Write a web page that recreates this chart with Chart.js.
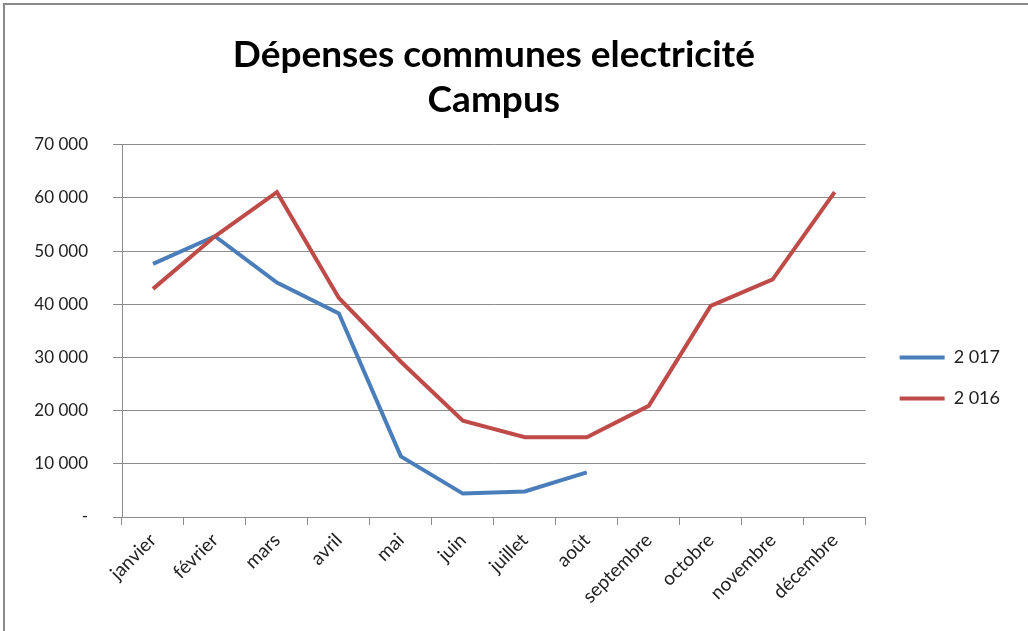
<!DOCTYPE html>
<html>
<head>
<meta charset="utf-8">
<script src="https://cdn.jsdelivr.net/npm/chart.js@4/dist/chart.umd.min.js"></script>
<style>
  html, body { margin: 0; padding: 0; background: #fff; }
  #wrap { position: relative; width: 1028px; height: 631px; overflow: hidden; }
  #frame { position: absolute; left: 3px; top: 3px; width: 1040px; height: 640px;
           border-top: 2px solid #8a8a8a; border-left: 2px solid #8a8a8a; pointer-events: none; }
</style>
</head>
<body>
<div id="wrap">
  <canvas id="chart" width="1028" height="631"></canvas>
  <div id="frame"></div>
</div>
<script>
const months = ["janvier", "février", "mars", "avril", "mai", "juin", "juillet", "août",
  "septembre", "octobre", "novembre", "décembre"];
const values2017 = [47600, 52800, 44100, 38300, 11400, 4400, 4800, 8400];
const values2016 = [42900, 52800, 61100, 41200, 29200, 18100, 15000, 15000, 20900, 39700, 44700, 61100];
const yTickLabels = ["-", "10 000", "20 000", "30 000", "40 000", "50 000", "60 000", "70 000"];

const blue = "#4A7EBB";
const red = "#BE4B48";
const gridColor = "#8c8c8c";
const font = "Lato, 'Liberation Sans', sans-serif";

const chart = new Chart(document.getElementById("chart"), {
  type: "line",
  data: {
    labels: months,
    datasets: [
      {
        label: "2 017",
        data: values2017,
        borderColor: blue,
        backgroundColor: blue,
        borderWidth: 4,
        pointRadius: 0,
        tension: 0,
        order: 1,
      },
      {
        label: "2 016",
        data: values2016,
        borderColor: red,
        backgroundColor: red,
        borderWidth: 4,
        pointRadius: 0,
        tension: 0,
        order: 0,
      },
    ],
  },
  options: {
    responsive: false,
    animation: false,
    layout: { padding: { left: 0, right: 18, top: 0, bottom: 0 } },
    plugins: {
      tooltip: { enabled: false },
      title: {
        display: true,
        fullSize: false,
        text: ["Dépenses communes electricité", "Campus"],
        color: "#000",
        font: { family: font, size: 37, weight: "bold", lineHeight: 1.2 },
        padding: { top: 33, bottom: 23 },
      },
      legend: {
        position: "right",
        title: { display: true, text: " ", padding: { top: 113, bottom: 0 }, font: { size: 10 } },
        labels: {
          usePointStyle: true,
          pointStyle: "line",
          pointStyleWidth: 45,
          color: "#222",
          font: { family: font, size: 18 },
          padding: 23,
          sort: (a, b) => a.datasetIndex - b.datasetIndex,
        },
      },
    },
    scales: {
      x: {
        offset: true,
        grid: { offset: true, drawOnChartArea: false, drawTicks: true, tickLength: 8, color: gridColor },
        border: { color: gridColor, width: 1 },
        ticks: {
          minRotation: 45,
          maxRotation: 45,
          autoSkip: false,
          color: "#222",
          font: { family: font, size: 19 },
          padding: 4,
        },
        afterFit: (scale) => { scale.height = 114; },
      },
      y: {
        min: 0,
        max: 70000,
        grid: { color: gridColor, tickLength: 9 },
        border: { color: gridColor, width: 1 },
        ticks: {
          stepSize: 10000,
          color: "#222",
          font: { family: font, size: 17 },
          padding: 25,
          callback: (value, index) => yTickLabels[index],
        },
        afterFit: (scale) => { scale.width = 122; },
      },
      // empty spacer between the plot and the legend
      gap: {
        position: "right",
        grid: { display: false },
        border: { display: false },
        ticks: { display: false },
        afterFit: (scale) => { scale.width = 11; },
      },
    },
  },
});
</script>
</body>
</html>
